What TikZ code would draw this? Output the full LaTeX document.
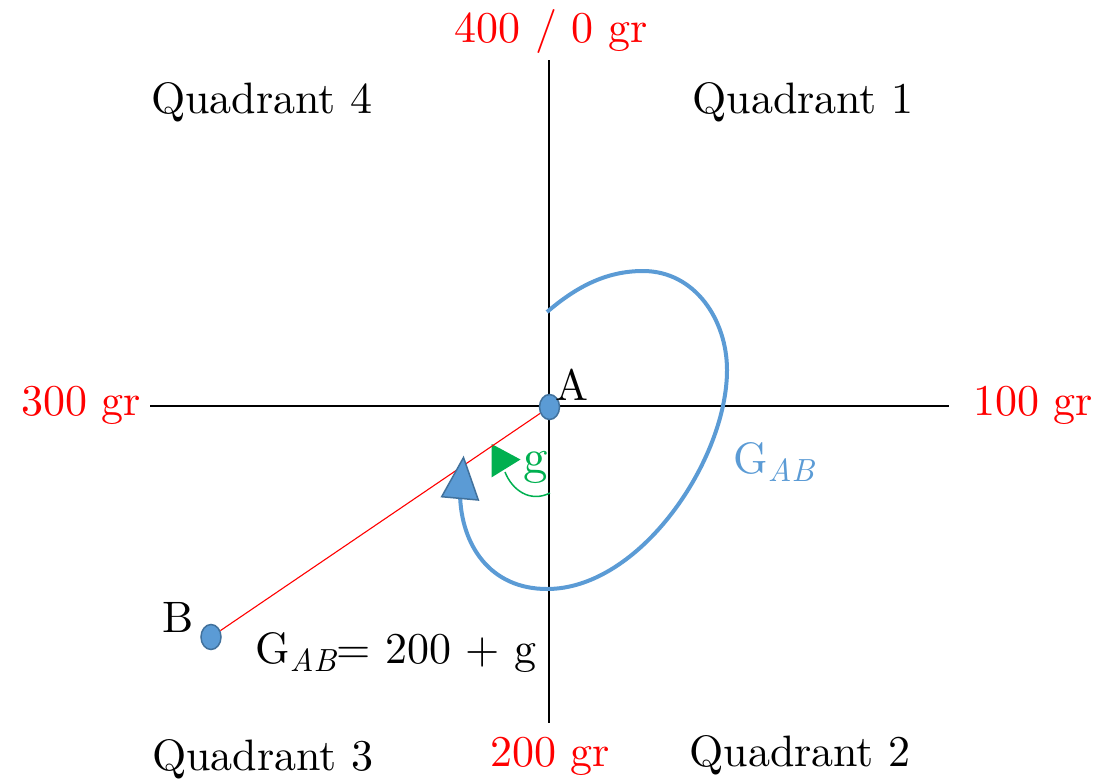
\documentclass[tikz,border=0pt]{standalone}
\usepackage{fontspec}
\setmainfont{lmroman10-regular.otf}[ItalicFont=lmroman10-italic.otf, BoldFont=lmroman10-bold.otf]
\usetikzlibrary{shapes.geometric}
\definecolor{myblue}{HTML}{5B9BD5}
\definecolor{myblueedge}{HTML}{41719C}
\definecolor{mygreen}{HTML}{00B050}
\newcommand\subAB{\raisebox{-8pt}{\fontsize{32}{32}\selectfont\itshape AB}}
\begin{document}
\begin{tikzpicture}[x=1pt,y=-1pt,
  lbl/.style={inner sep=0pt, anchor=base, font=\fontsize{44}{50}\selectfont},
  axisline/.style={line width=1.4pt, black},
  ptnode/.style={ellipse, draw=myblueedge, line width=1.5pt, fill=myblue, minimum width=20pt, minimum height=25pt, inner sep=0pt},
  bluecurve/.style={myblue, line width=4pt},
  tri/.style={fill=myblue, draw=myblueedge, line width=1.5pt, line join=miter}]
\useasboundingbox (0,0) rectangle (1110,782);
% axes
\coordinate (xl) at (150,406);
\coordinate (xr) at (949,406);
\coordinate (yt) at (549,60);
\coordinate (yb) at (549,723);
\draw[axisline] (xl) -- (xr);
\draw[axisline] (yt) -- (yb);
% blue bearing curve
\coordinate (c0) at (547,312);
\coordinate (c1) at (643,271);
\coordinate (c2) at (727,370);
\coordinate (c3) at (547,589);
\coordinate (c4) at (460,494);
\draw[bluecurve] (c0) .. controls (575,288) and (605,271) .. (c1)
  .. controls (695,271) and (727,320) .. (c2)
  .. controls (727,460) and (640,589) .. (c3)
  .. controls (490,589) and (461,545) .. (c4);
% green angle arc
\coordinate (g0) at (550,493);
\coordinate (g1) at (505,472);
\draw[mygreen, line width=1.5pt] (g0) .. controls (530,503) and (512,490) .. (g1);
\fill[mygreen] (491.7,444) -- (520.5,459.5) -- (491.7,477.3) -- cycle;
% points and red line
\node[ptnode] (A) at (549.5,407) {};
\node[ptnode] (B) at (211,637) {};
\draw[red, line width=1.1pt] (A) -- (B);
% blue arrowhead
\draw[tri] (463.5,457.5) -- (478.3,500) -- (441.7,496.7) -- cycle;
% labels
\node[lbl, text=red] (t400) at (551,42) {400 / 0 gr};
\node[lbl] (q4) at (262,113) {Quadrant 4};
\node[lbl] (q1) at (803,113) {Quadrant 1};
\node[lbl, text=red] (t300) at (81,415) {300 gr};
\node[lbl, text=red] (t100) at (1033,415) {100 gr};
\node[lbl] (q3) at (263,770) {Quadrant 3};
\node[lbl, text=red] (t200) at (550,766) {200 gr};
\node[lbl] (q2) at (800,766) {Quadrant 2};
\node[lbl] (lA) at (572,400) {A};
\node[lbl] (lB) at (178,632) {B};
\node[lbl] (eq) at (396,663) {G\subAB= 200 + g};
\node[lbl, anchor=base west, text=myblue] (gab) at (733,473) {G\subAB};
\node[lbl, text=mygreen, font=\fontsize{49}{50}\selectfont] (lg) at (536,473) {g};
\end{tikzpicture}
\end{document}
